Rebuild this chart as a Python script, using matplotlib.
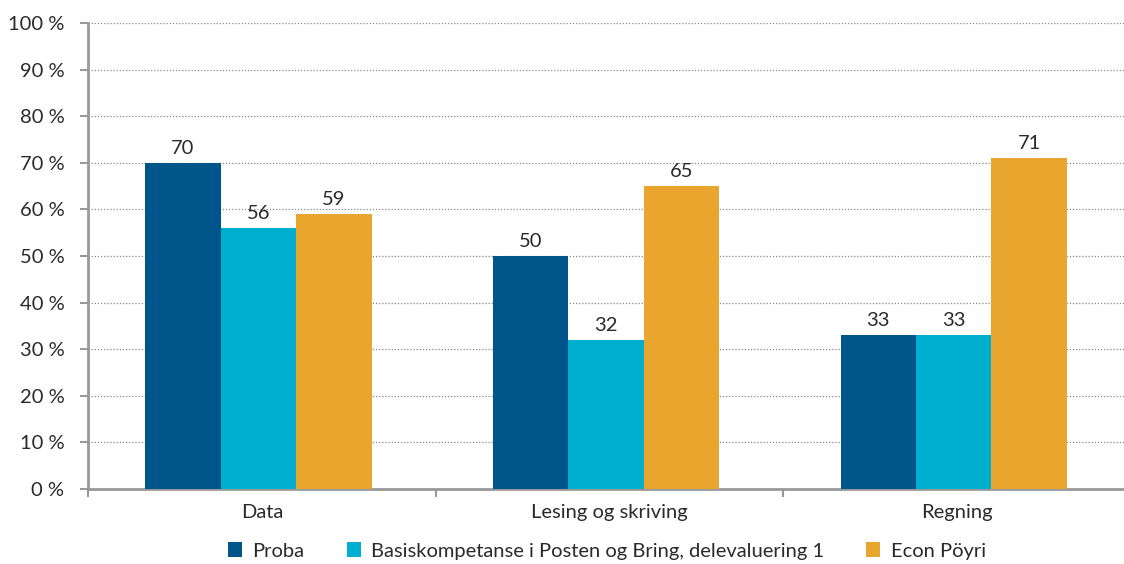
import matplotlib
matplotlib.use("Agg")
import matplotlib.pyplot as plt
import numpy as np

categories = ["Data", "Lesing og skriving", "Regning"]
series_names = ["Proba", "Basiskompetanse i Posten og Bring, delevaluering 1", "Econ Pöyri"]
proba = [70, 50, 33]
basis = [56, 32, 33]
econ = [59, 65, 71]
colors = ["#00568A", "#00AECF", "#E8A62E"]
y_ticks = [0, 10, 20, 30, 40, 50, 60, 70, 80, 90, 100]

plt.rcParams["font.family"] = ["Lato", "DejaVu Sans"]
TXT = "#2a2a2a"
FS = 14.5

W, H = 1124, 564
fig = plt.figure(figsize=(W / 100, H / 100), dpi=100)
ax = fig.add_axes([88 / W, 75 / H, 1043 / W, 466 / H])

x = np.arange(len(categories)) - 0.01
width = 0.217
for i, (vals, name) in enumerate(zip([proba, basis, econ], series_names)):
    bars = ax.bar(x + (i - 1) * width, vals, width, color=colors[i], label=name,
                  zorder=3, linewidth=0)
    for b, v in zip(bars, vals):
        ax.text(b.get_x() + b.get_width() / 2, v + 1.3, str(v), ha="center",
                va="bottom", fontsize=FS, color=TXT)

ax.set_xlim(-0.5, len(categories) - 0.5)
ax.set_ylim(0, 100)
ax.set_yticks(y_ticks)
ax.set_yticklabels([f"{t} %" for t in y_ticks], fontsize=FS, color=TXT)
ax.yaxis.grid(True, linestyle=(0, (1, 1.5)), color="#888888", linewidth=0.9, zorder=0)

ax.set_xticks(np.arange(len(categories)))
ax.set_xticklabels(categories, fontsize=FS, color=TXT)
ax.tick_params(axis="x", length=0, pad=11)
ax.set_xticks(np.arange(len(categories) + 1) - 0.5, minor=True)
ax.tick_params(axis="x", which="minor", length=6, width=1.5, color="#999999", direction="out")
ax.tick_params(axis="y", length=6, width=1.5, color="#999999", pad=11)

for s in ["top", "right"]:
    ax.spines[s].set_visible(False)
for s in ["left", "bottom"]:
    ax.spines[s].set_color("#999999")
    ax.spines[s].set_linewidth(2)

leg = fig.legend(loc="center", bbox_to_anchor=(607 / W, 1 - 551 / H), ncol=3, frameon=False,
                 fontsize=FS, handlelength=0.7, handleheight=0.7, columnspacing=2.1,
                 handletextpad=0.5, borderpad=0)
for t in leg.get_texts():
    t.set_color(TXT)

fig.savefig("out.png", dpi=100)
